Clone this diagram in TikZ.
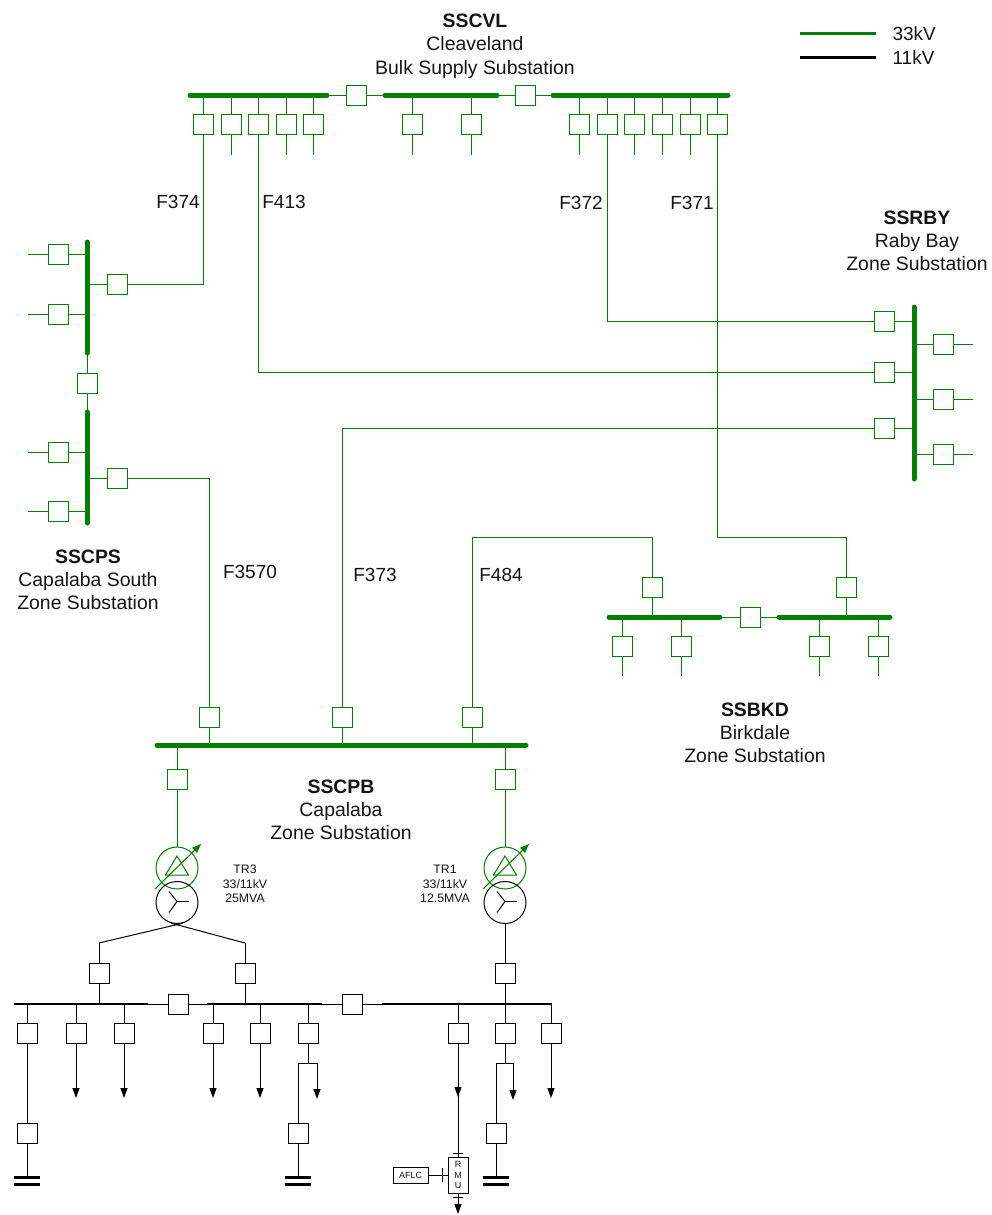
\documentclass[tikz,border=0pt]{standalone}
\usepackage{fontspec}
\setmainfont{Liberation Sans}
\usetikzlibrary{arrows.meta,calc}
\definecolor{hv}{RGB}{0,128,0}
\definecolor{txt}{RGB}{20,20,20}
\tikzset{
  brk/.style={draw=hv, fill=white, minimum width=20pt, minimum height=20pt, inner sep=0pt, line width=1pt},
  brkb/.style={brk, draw=black},
  hvl/.style={draw=hv, line width=1pt},
  lvl/.style={draw=black, line width=1pt},
  hvbus/.style={draw=hv, line width=5pt, line cap=round},
  lvbus/.style={draw=black, line width=1.6pt},
  lbl/.style={font=\fontsize{19.4}{23.3}\selectfont, align=center, text=txt},
  flbl/.style={font=\fontsize{19}{22}\selectfont, text=txt},
  small/.style={font=\fontsize{12.3}{14.6}\selectfont, align=center, text=txt},
  load/.style={-{Triangle[width=7pt,length=10pt]}},
  hvarrow/.style={draw=hv, line width=1pt, -{Triangle[width=7pt,length=9pt]}, fill=hv},
  hvcirc/.style={circle, draw=hv, minimum size=42pt, inner sep=0pt, line width=1pt},
  lvcirc/.style={circle, draw=black, minimum size=42pt, inner sep=0pt, line width=1pt},
  earthbar/.style={draw=black, line width=3pt},
  tiny/.style={font=\fontsize{9}{10.5}\selectfont, align=center, text=txt},
}
\begin{document}
\begin{tikzpicture}[x=1pt,y=-1pt]
\useasboundingbox (0,0) rectangle (991,1215);

% ---------- legend ----------
\coordinate (lg1a) at (800,34); \coordinate (lg1b) at (876,34);
\coordinate (lg2a) at (800,58); \coordinate (lg2b) at (876,58);
\draw[hv, line width=3pt] (lg1a) -- (lg1b);
\draw[black, line width=3pt] (lg2a) -- (lg2b);
\node[flbl, anchor=west] (lg1t) at (889,34) {33kV};
\node[flbl, anchor=west] (lg2t) at (889,58) {11kV};

% ---------- SSCVL ----------
\node[lbl] (cvlname) at (475,46) {\textbf{SSCVL}\\Cleaveland\\Bulk Supply Substation};
\coordinate (cvlL1) at (190,95); \coordinate (cvlL2) at (327,95);
\coordinate (cvlM1) at (385,95); \coordinate (cvlM2) at (497,95);
\coordinate (cvlR1) at (553,95); \coordinate (cvlR2) at (728,95);
\draw[hvbus] (cvlL1) -- (cvlL2);
\draw[hvbus] (cvlM1) -- (cvlM2);
\draw[hvbus] (cvlR1) -- (cvlR2);
\node[brk] (cvlc1) at (356,95) {};
\node[brk] (cvlc2) at (525,95) {};
\draw[hvl] (cvlL2) -- (cvlc1) -- (cvlM1);
\draw[hvl] (cvlM2) -- (cvlc2) -- (cvlR1);
\foreach \x/\n in {203/a,231/b,258/c,286/d,313/e,412/m,471/n,579/f,607/g,634/h,662/i,690/j,717/k}{
  \node[brk] (cvl\n) at (\x,124) {};
  \draw[hvl] (cvl\n |- cvlL1) -- (cvl\n);
}
\foreach \n in {b,d,e,m,n,f,h,i,j}{
  \draw[hvl] (cvl\n) -- ++(0,31);
}

% ---------- SSCPS ----------
\node[lbl] (cpsname) at (88,580) {\textbf{SSCPS}\\Capalaba South\\Zone Substation};
\coordinate (cpsU1) at (87,242); \coordinate (cpsU2) at (87,353);
\coordinate (cpsD1) at (87,412); \coordinate (cpsD2) at (87,523);
\draw[hvbus] (cpsU1) -- (cpsU2);
\draw[hvbus] (cpsD1) -- (cpsD2);
\node[brk] (cpsc) at (87,383) {};
\draw[hvl] (cpsU2) -- (cpsc) -- (cpsD1);
\foreach \y/\n in {254/1,314/2,452/3,511/4}{
  \node[brk] (cpsL\n) at (58,\y) {};
  \draw[hvl] (cpsL\n) -- (cpsL\n -| cpsU1);
  \draw[hvl] (cpsL\n) -- ++(-30,0);
}
\node[brk] (cpsR1) at (117,284) {};
\node[brk] (cpsR2) at (117,478) {};
\draw[hvl] (cpsR1 -| cpsU1) -- (cpsR1);
\draw[hvl] (cpsR2 -| cpsU1) -- (cpsR2);

% ---------- SSRBY ----------
\node[lbl] (rbyname) at (917,241) {\textbf{SSRBY}\\Raby Bay\\Zone Substation};
\coordinate (rbyB1) at (914,307); \coordinate (rbyB2) at (914,479);
\draw[hvbus] (rbyB1) -- (rbyB2);
\foreach \y/\n in {321/1,372/2,428/3}{
  \node[brk] (rbyL\n) at (884,\y) {};
  \draw[hvl] (rbyL\n) -- (rbyL\n -| rbyB1);
}
\foreach \y/\n in {344/1,399/2,454/3}{
  \node[brk] (rbyR\n) at (943,\y) {};
  \draw[hvl] (rbyR\n -| rbyB1) -- (rbyR\n);
  \draw[hvl] (rbyR\n) -- ++(30,0);
}

% ---------- SSBKD ----------
\node[lbl] (bkdname) at (755,733) {\textbf{SSBKD}\\Birkdale\\Zone Substation};
\coordinate (bkdL1) at (609,617); \coordinate (bkdL2) at (720,617);
\coordinate (bkdR1) at (779,617); \coordinate (bkdR2) at (890,617);
\draw[hvbus] (bkdL1) -- (bkdL2);
\draw[hvbus] (bkdR1) -- (bkdR2);
\node[brk] (bkdc) at (750,617) {};
\draw[hvl] (bkdL2) -- (bkdc) -- (bkdR1);
\node[brk] (bkdF1) at (652,587) {};
\node[brk] (bkdF2) at (846,587) {};
\draw[hvl] (bkdF1) -- (bkdF1 |- bkdL1);
\draw[hvl] (bkdF2) -- (bkdF2 |- bkdL1);
\foreach \x/\n in {622/1,681/2,819/3,878/4}{
  \node[brk] (bkdD\n) at (\x,646) {};
  \draw[hvl] (bkdD\n |- bkdL1) -- (bkdD\n);
  \draw[hvl] (bkdD\n) -- ++(0,30);
}

% ---------- SSCPB 33kV ----------
\node[lbl] (cpbname) at (341,810) {\textbf{SSCPB}\\Capalaba\\Zone Substation};
\coordinate (cpbB1) at (157,745); \coordinate (cpbB2) at (526,745);
\draw[hvbus] (cpbB1) -- (cpbB2);
\node[brk] (cpbF1) at (209,717) {};
\node[brk] (cpbF2) at (342,717) {};
\node[brk] (cpbF3) at (472,717) {};
\foreach \n in {1,2,3}{ \draw[hvl] (cpbF\n) -- (cpbF\n |- cpbB1); }
\node[brk] (cpbT3) at (177,779) {};
\node[brk] (cpbT1) at (505,779) {};
\draw[hvl] (cpbT3 |- cpbB1) -- (cpbT3);
\draw[hvl] (cpbT1 |- cpbB1) -- (cpbT1);

% ---------- feeders ----------
\coordinate (c371) at (846,537);
\coordinate (c484) at (652,537);
\draw[hvl] (cvla) -- (cvla |- cpsR1) -- (cpsR1);
\draw[hvl] (cvlc) -- (cvlc |- rbyL2) -- (rbyL2);
\draw[hvl] (cvlg) -- (cvlg |- rbyL1) -- (rbyL1);
\draw[hvl] (cvlk) -- (cvlk |- c371) -- (c371) -- (bkdF2);
\draw[hvl] (cpsR2) -- (cpsR2 -| cpbF1) -- (cpbF1);
\draw[hvl] (rbyL3) -- (rbyL3 -| cpbF2) -- (cpbF2);
\draw[hvl] (cpbF3) -- (cpbF3 |- c484) -- (c484) -- (bkdF1);
\node[flbl] (lF374) at (178,202) {F374};
\node[flbl] (lF413) at (284,202) {F413};
\node[flbl] (lF372) at (581,203) {F372};
\node[flbl] (lF371) at (692,203) {F371};
\node[flbl] (lF3570) at (250,572) {F3570};
\node[flbl] (lF373) at (375,575) {F373};
\node[flbl] (lF484) at (501,575) {F484};

% ---------- transformers ----------
\foreach \t/\x in {3/177,1/505}{
  \node[hvcirc] (tr\t hv) at (\x,868) {};
  \node[lvcirc] (tr\t lv) at (\x,902.5) {};
  \draw[hv, line width=1pt, line join=miter] ($(tr\t hv)+(0,-12)$) -- ($(tr\t hv)+(11.5,7)$) -- ($(tr\t hv)+(-11.5,7)$) -- cycle;
  \draw[hvarrow] ($(tr\t hv)+(-22,21)$) -- ($(tr\t hv)+(24,-24)$);
  \coordinate (wy\t) at ($(tr\t lv)+(0,-1)$);
  \draw[lvl] (wy\t) -- ++(12,0);
  \draw[lvl] (wy\t) -- ++(-8,-10);
  \draw[lvl] (wy\t) -- ++(-8,11);
}
\draw[hvl] (cpbT3) -- (tr3hv);
\draw[hvl] (cpbT1) -- (tr1hv);
\node[small] (tr3txt) at (245,884) {TR3\\33/11kV\\25MVA};
\node[small] (tr1txt) at (445,884) {TR1\\33/11kV\\12.5MVA};

% ---------- 11kV ----------
\coordinate (lvA1) at (14,1004); \coordinate (lvA2) at (148,1004);
\coordinate (lvB1) at (207,1004); \coordinate (lvB2) at (322,1004);
\coordinate (lvC1) at (382,1004); \coordinate (lvC2) at (552,1004);
\draw[lvbus] (lvA1) -- (lvA2);
\draw[lvbus] (lvB1) -- (lvB2);
\draw[lvbus] (lvC1) -- (lvC2);
\node[brkb] (lvc1) at (178,1004) {};
\node[brkb] (lvc2) at (352,1004) {};
\draw[lvl] (lvA2) -- (lvc1) -- (lvB1);
\draw[lvl] (lvB2) -- (lvc2) -- (lvC1);

\coordinate (tr3a) at (99,943);
\coordinate (tr3b) at (245,943);
\draw[lvl] (tr3a) -- (tr3lv.-75);
\draw[lvl] (tr3b) -- (tr3lv.-105);
\node[brkb] (lvT3a) at (99,973) {};
\node[brkb] (lvT3b) at (245,973) {};
\node[brkb] (lvT1) at (505,973) {};
\draw[lvl] (tr3a) -- (lvT3a) -- (lvT3a |- lvA1);
\draw[lvl] (tr3b) -- (lvT3b) -- (lvT3b |- lvA1);
\draw[lvl] (tr1lv) -- (lvT1) -- (lvT1 |- lvA1);

\foreach \x/\n in {27/1,76/2,124/3,213/4,260/5,308/6,458/7,505/8,551/9}{
  \node[brkb] (lf\n) at (\x,1033) {};
  \draw[lvl] (lf\n |- lvA1) -- (lf\n);
}
\foreach \n in {2,3,4,5,9}{
  \draw[lvl, load] (lf\n) -- ++(0,65);
}
% feeder 1 to earth
\node[brkb] (le1) at (27,1133) {};
\coordinate (ea1) at (27,1177);
\draw[lvl] (lf1) -- (le1) -- (ea1);
% feeder 6
\coordinate (j6) at (308,1063);
\coordinate (j6l) at (298,1063); \coordinate (j6r) at (317,1063);
\node[brkb] (le6) at (298,1133) {};
\coordinate (ea6) at (298,1177);
\draw[lvl] (lf6) -- (j6);
\draw[lvl] (j6l) -- (j6r);
\draw[lvl, load] (j6r) -- ++(0,36);
\draw[lvl] (j6l) -- (le6) -- (ea6);
% feeder 8
\coordinate (j8) at (505,1063);
\coordinate (j8l) at (496,1063); \coordinate (j8r) at (513,1063);
\node[brkb] (le8) at (496,1133) {};
\coordinate (ea8) at (496,1177);
\draw[lvl] (lf8) -- (j8);
\draw[lvl] (j8l) -- (j8r);
\draw[lvl, load] (j8r) -- ++(0,37);
\draw[lvl] (j8l) -- (le8) -- (ea8);
% earths
\foreach \n in {1,6,8}{
  \draw[earthbar] ($(ea\n)+(-13,0)$) -- ($(ea\n)+(13,0)$);
  \draw[earthbar] ($(ea\n)+(-13,7)$) -- ($(ea\n)+(13,7)$);
}
% feeder 7 with RMU
\node[draw=black, line width=1pt, fill=white, minimum width=20pt, minimum height=36pt, inner sep=0pt, tiny] (rmu) at (458,1175) {R\\M\\U};
\node[draw=black, line width=1pt, fill=white, minimum width=35pt, minimum height=16pt, inner sep=0pt, tiny] (aflc) at (410.5,1175) {AFLC};
\draw[lvl] (lf7) -- (rmu);
\draw[lvl, load] (lf7) -- ++(0,64);
\coordinate (rmuTop) at (458,1153);
\draw[lvl] ($(rmuTop)+(-5,0)$) -- ($(rmuTop)+(5,0)$);
\coordinate (rmuBot) at (458,1197);
\draw[lvl] ($(rmuBot)+(-5,0)$) -- ($(rmuBot)+(5,0)$);
\coordinate (rmuEnd) at (458,1214);
\draw[lvl, load] (rmu) -- (rmuEnd);
\draw[lvl] (aflc) -- (rmu);
\coordinate (aflcT) at (442,1175);
\draw[lvl] ($(aflcT)+(0,-7)$) -- ($(aflcT)+(0,7)$);
\end{tikzpicture}
\end{document}
